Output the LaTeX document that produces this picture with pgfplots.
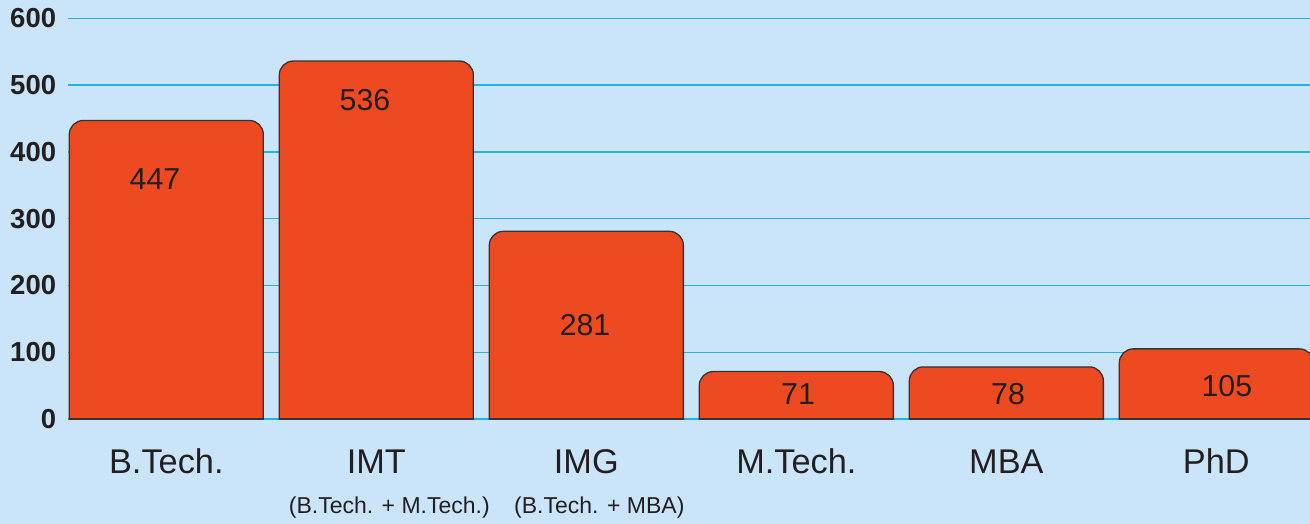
\documentclass[border=0pt]{standalone}
\usepackage{pgfplots}
\pgfplotsset{compat=1.18}
\usepackage{pgfplotstable}
\usepackage{fontspec}
\setmainfont{Liberation Sans}
\definecolor{bg}{HTML}{CAE5FA}
\definecolor{barc}{HTML}{EE4A22}
\definecolor{gridc}{HTML}{22B2E8}
\definecolor{txt}{HTML}{231F20}
\definecolor{edge}{HTML}{333333}

\pgfplotstableread{
x v z
0 447 0
1 536 0
2 281 0
3 71 0
4 78 0
5 105 0
}\bars
\pgfplotstableread{
x y lab
-0.054 342.9 447
0.946 461.7 536
1.994 124.3 281
3.008 21.0 71
4.008 21.0 78
5.050 34.4 105
}\labels

% bars are drawn in an axis whose zero lies 30 units below the visible zero; the part below is clipped,
% so only the tops of the bars look rounded
\def\off{30}

\pgfplotsset{common/.style={
  at={(68.3pt,104pt)}, anchor=south west,
  scale only axis, width=1241.7pt, height=401.7pt,
  xmin=-0.4667, xmax=5.446,
  ymin=-1.5, ymax=600}}

\begin{document}
\begin{tikzpicture}
\useasboundingbox (0,0) rectangle (1310pt,524pt);
\fill[bg] (0,0) rectangle (1310pt,524pt);
\begin{axis}[
  common,
  axis lines*=left,
  axis line style={draw=none},
  major tick length=0pt,
  ymajorgrids,
  grid style={gridc, line width=1.3pt},
  ytick={0,100,200,300,400,500,600},
  yticklabels={0,100,200,300,400,500,600},
  yticklabel style={font=\bfseries\fontsize{27.5}{27.5}\selectfont, text=txt, anchor=east, inner sep=0pt, xshift=-12pt},
  xtick={0,1,2,3,4,5},
  xticklabels={B.Tech., IMT, IMG, M.Tech., MBA, PhD},
  xticklabel style={font=\fontsize{34.3}{34.3}\selectfont, text=txt, anchor=base, yshift=-54pt},
  extra x ticks={1,2},
  extra x tick labels={(B.Tech. + M.Tech.), (B.Tech. + MBA)},
  extra x tick style={major tick length=0pt, grid=none, xticklabel style={font=\fontsize{23}{23}\selectfont, xshift=13pt, yshift=-40pt}},
]
\addplot[draw=none, mark=none] table[x=x, y=z]{\bars};
\end{axis}
\begin{scope}
\clip (0,104pt) rectangle (1310pt,524pt);
\begin{axis}[
  at={(68.3pt,84.967pt)}, anchor=south west,
  scale only axis, width=1241.7pt, height=420.73pt,
  xmin=-0.4667, xmax=5.446,
  ymin=0, ymax=630,
  hide axis, ybar, bar width=0.924]
\addplot[fill=barc, draw=edge, line width=1.3pt, rounded corners=14pt]
  table[x=x, y expr=\thisrow{v}+\off]{\bars};
\end{axis}
\end{scope}
\begin{axis}[common, hide axis]
\addplot[ybar, bar width=0.924, fill=none, draw=edge, line width=1.3pt, sharp corners]
  table[x=x, y=z]{\bars};
\addplot[only marks, mark=none, point meta=explicit symbolic, nodes near coords,
  nodes near coords style={anchor=base, inner sep=0pt, text=txt, font=\fontsize{30.3}{30.3}\selectfont}]
  table[x=x, y=y, meta=lab]{\labels};
\end{axis}
\end{tikzpicture}
\end{document}
